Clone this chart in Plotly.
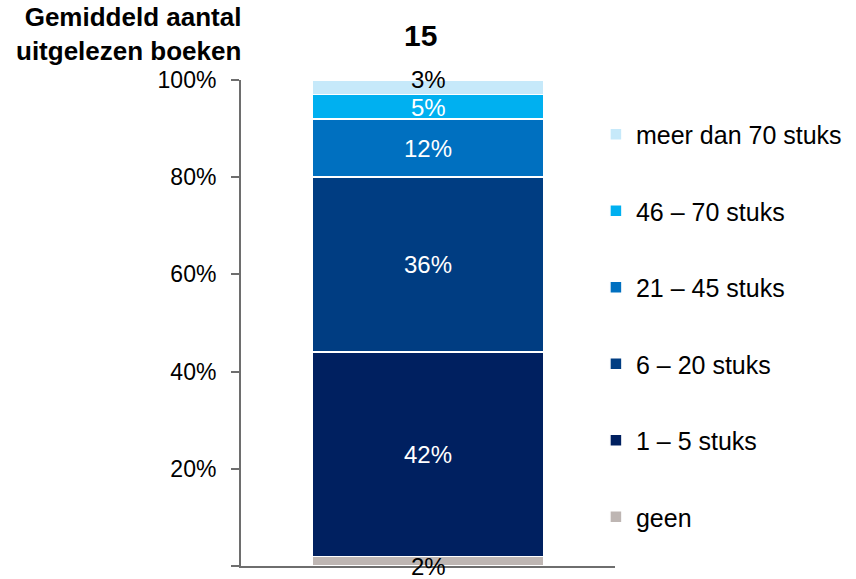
import plotly.graph_objects as go

categories = ["15"]
series_names = ["geen", "1 – 5 stuks", "6 – 20 stuks", "21 – 45 stuks", "46 – 70 stuks", "meer dan 70 stuks"]
series_values = [2, 42, 36, 12, 5, 3]
colors = ["#BEB6B3", "#002060", "#003D82", "#0070C0", "#00B0F0", "#C6E9FA"]
label_colors = ["black", "white", "white", "white", "white", "black"]
y_ticks = [0, 20, 40, 60, 80, 100]
y_tick_labels = ["0%", "20%", "40%", "60%", "80%", "100%"]

FONT = "Liberation Sans, Arial, sans-serif"

fig = go.Figure()
n = len(series_names)
for i, (name, v, c) in enumerate(zip(series_names, series_values, colors)):
    fig.add_trace(go.Bar(
        x=categories, y=[v], name=name,
        marker=dict(color=c, line=dict(color="white", width=1.5)),
        width=0.62, legendgroup=name, legendrank=n - i,
    ))

# data labels (labels of the thin end segments pushed slightly outward)
cum = 0
annotations = []
for i, (v, lc) in enumerate(zip(series_values, label_colors)):
    mid = cum + v / 2
    cum += v
    shift = -5 if i == 0 else (8 if i == n - 1 else (-1 if i == n - 2 else 0))
    annotations.append(dict(x=0, y=mid, xref="x", yref="y", yshift=shift,
                            text=f"{v}%", showarrow=False,
                            font=dict(family=FONT, size=24, color=lc)))

annotations.append(dict(x=0.005, y=1.0, xref="paper", yref="paper", xanchor="right",
                        yanchor="bottom", yshift=12, align="right", showarrow=False,
                        text="<b>Gemiddeld aantal<br>uitgelezen boeken</b>",
                        font=dict(family=FONT, size=26, color="black")))
annotations.append(dict(x=0.48, y=1.0, xref="paper", yref="paper", xanchor="center",
                        yanchor="bottom", yshift=26, showarrow=False,
                        text="<b>15</b>", font=dict(family=FONT, size=30, color="black")))

fig.update_layout(
    barmode="stack",
    width=856, height=579,
    margin=dict(l=241, r=241, t=80, b=13, autoexpand=False),
    plot_bgcolor="white", paper_bgcolor="white",
    font=dict(family=FONT, size=25, color="black"),
    showlegend=True,
    legend=dict(x=0.949, y=0.935, xanchor="left", yanchor="top",
                traceorder="grouped", tracegroupgap=41,
                font=dict(family=FONT, size=25, color="black"),
                itemwidth=30, bgcolor="rgba(0,0,0,0)"),
    annotations=annotations,
    xaxis=dict(type="category", showticklabels=False, showline=True, linecolor="#6E6E6E",
               linewidth=2, ticks="", range=[-0.5, 0.5], fixedrange=True, automargin=False),
    yaxis=dict(range=[0, 100], tickvals=y_ticks, ticktext=y_tick_labels,
               showline=True, linecolor="#6E6E6E", linewidth=2, ticks="outside",
               ticklen=8, tickcolor="#6E6E6E", tickwidth=2, showgrid=False,
               zeroline=False, ticklabelstandoff=10, automargin=False, fixedrange=True,
               tickfont=dict(family=FONT, size=23, color="black")),
)

fig.write_html("out.html", config={"displayModeBar": False},
               post_script="document.body.style.margin='0';")
